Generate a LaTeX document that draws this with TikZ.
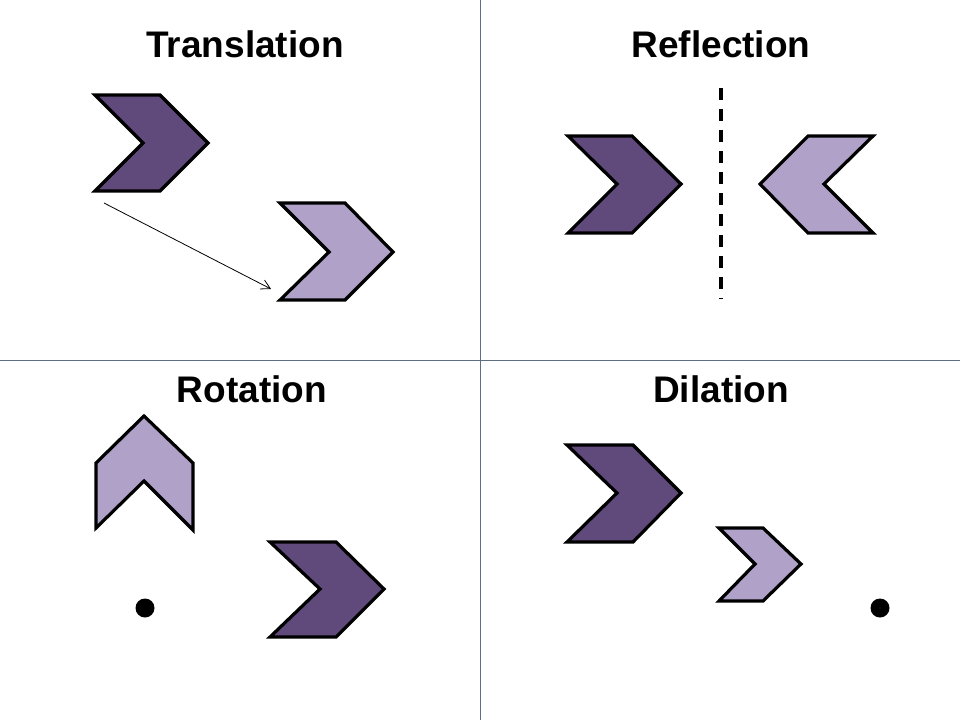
\documentclass[tikz,border=0pt]{standalone}
\usepackage{fontspec}
\setmainfont{Liberation Sans}
\usetikzlibrary{arrows.meta}
\definecolor{darkp}{RGB}{95,74,123}
\definecolor{lightp}{RGB}{176,161,200}
\definecolor{divider}{RGB}{95,110,130}
\begin{document}
\begin{tikzpicture}[x=1pt,y=-1pt,
  title/.style={font=\fontsize{37}{42}\selectfont\bfseries, anchor=base, inner sep=0pt},
  darkshape/.style={fill=darkp, draw=black, line width=3.2pt, line join=miter},
  lightshape/.style={fill=lightp, draw=black, line width=3.2pt, line join=miter},
  dot/.style={circle, fill=black, minimum size=19pt, inner sep=0pt}]
\useasboundingbox (0,0) rectangle (960,720);
\fill[white] (0,0) rectangle (960,720);
% dividers
\draw[divider, line width=0.8pt] (480.5,0) -- (480.5,720);
\draw[divider, line width=0.8pt] (0,360) -- (960,360);
% titles
\node[title] (t1) at (245,57) {Translation};
\node[title] (t2) at (721,57) {Reflection};
\node[title] (t3) at (252,402) {Rotation};
\node[title] (t4) at (721,402) {Dilation};
% Translation
\draw[darkshape] (95,95) -- (160,95) -- (208,143) -- (160,191) -- (95,191) -- (143,143) -- cycle;
\draw[lightshape] (280,203) -- (345,203) -- (393,252) -- (345,300) -- (280,300) -- (329,252) -- cycle;
\coordinate (a1) at (104,203);
\coordinate (a2) at (271,289);
\draw[line width=0.8pt, -{Straight Barb[length=9pt,width=10pt]}] (a1) -- (a2);
% Reflection
\draw[darkshape] (568,136) -- (632,136) -- (681,184) -- (632,233) -- (568,233) -- (617,184) -- cycle;
\draw[lightshape] (873,136) -- (808,136) -- (760,184) -- (808,233) -- (873,233) -- (824,184) -- cycle;
\coordinate (m1) at (721,88);
\coordinate (m2) at (721,299);
\draw[line width=3.2pt, dash pattern=on 12pt off 9pt] (m1) -- (m2);
% Rotation
\draw[lightshape] (144,416) -- (193,463) -- (193,530) -- (144,481) -- (96,528) -- (96,463) -- cycle;
\node[dot] (c1) at (145,608) {};
\draw[darkshape] (270,542) -- (336,542) -- (384,589) -- (336,637) -- (270,637) -- (320,589) -- cycle;
% Dilation
\draw[darkshape] (567,445) -- (633,445) -- (681,493) -- (633,542) -- (567,542) -- (617,493) -- cycle;
\draw[lightshape] (719,528) -- (763,528) -- (801,564) -- (763,601) -- (719,601) -- (755,564) -- cycle;
\node[dot] (c2) at (880,608) {};
\end{tikzpicture}
\end{document}
